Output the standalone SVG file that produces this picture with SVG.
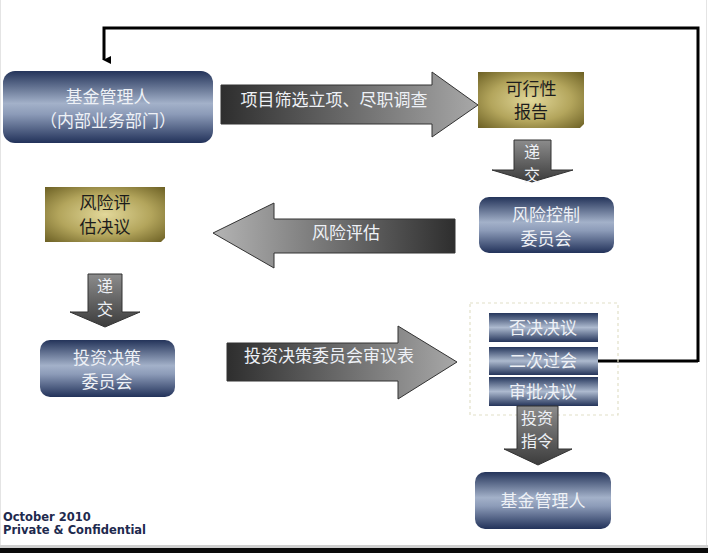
<svg xmlns="http://www.w3.org/2000/svg" width="708" height="553" viewBox="0 0 708 553">
<defs>
<linearGradient id="blue" x1="0" y1="0" x2="0" y2="1">
<stop offset="0" stop-color="#24345a"/>
<stop offset="0.45" stop-color="#a3b1c9"/>
<stop offset="0.6" stop-color="#8c9bb8"/>
<stop offset="1" stop-color="#22325a"/>
</linearGradient>
<linearGradient id="bar" x1="0" y1="0" x2="0" y2="1">
<stop offset="0" stop-color="#25365c"/>
<stop offset="0.5" stop-color="#adbacf"/>
<stop offset="1" stop-color="#24345a"/>
</linearGradient>
<radialGradient id="olive" cx="0.5" cy="0.5" r="0.7">
<stop offset="0" stop-color="#e2d89a"/>
<stop offset="0.55" stop-color="#b3a55c"/>
<stop offset="1" stop-color="#6d6125"/>
</radialGradient>
<linearGradient id="garR" x1="0" y1="0" x2="1" y2="0">
<stop offset="0" stop-color="#2e2e2e"/>
<stop offset="1" stop-color="#a8a8a8"/>
</linearGradient>
<linearGradient id="garL" x1="0" y1="0" x2="1" y2="0">
<stop offset="0" stop-color="#b4b4b4"/>
<stop offset="1" stop-color="#2e2e2e"/>
</linearGradient>
<linearGradient id="gard" x1="0" y1="0" x2="0" y2="1">
<stop offset="0" stop-color="#8c8c8c"/>
<stop offset="1" stop-color="#3c3c3c"/>
</linearGradient>
<marker id="ah" markerWidth="8" markerHeight="8" refX="4" refY="7" orient="auto" markerUnits="userSpaceOnUse" viewBox="0 0 8 8">
<path d="M0,0 L8,0 L4,8 Z" fill="#000"/>
</marker>
</defs>
<style>
.cn{font-family:"Noto Sans CJK SC","Liberation Sans",sans-serif;font-size:17px;text-anchor:middle}
.s{font-size:16px}
.w{fill:#eef1f6}
.d{fill:#1c1c1c}
.arr{stroke:#333;stroke-width:1}
.foot{font-family:"DejaVu Sans","Liberation Sans",sans-serif;font-weight:bold;font-size:11.5px;fill:#1e2a4e}
</style>
<rect width="708" height="553" fill="#ffffff"/>
<line x1="0.5" y1="0" x2="0.5" y2="546" stroke="#e4e4e4"/>
<line x1="706.5" y1="0" x2="706.5" y2="546" stroke="#e4e4e4"/>
<rect x="0" y="545" width="708" height="3" fill="#cfcfcf"/>
<rect x="0" y="548" width="708" height="5" fill="#0a0a0a"/>

<g id="connectors">
<path d="M698,361 H597" fill="none" stroke="#000" stroke-width="3"/>
<path d="M698,362 V28 H104 V60" fill="none" stroke="#000" stroke-width="3" marker-end="url(#ah)"/>
</g>

<g id="arrow-screen">
<path class="arr" d="M221,85 H432 V72 L478,105 L432,137 V124 H221 Z" fill="url(#garR)"/>
<text class="cn w" x="334" y="106" font-size="17.5">项目筛选立项、尽职调查</text>
</g>

<g id="node-fm1">
<rect x="3" y="71" width="210" height="72" rx="12" fill="url(#blue)"/>
<text class="cn w" x="108" y="103">基金管理人</text>
<text class="cn w" x="108" y="127">（内部业务部门）</text>
</g>

<g id="node-feasibility">
<path d="M478,72 H584 V124 L580,128 H478 Z" fill="url(#olive)"/>
<text class="cn d" x="531" y="95">可行性</text>
<text class="cn d" x="531" y="118">报告</text>
</g>

<g id="arrow-submit1">
<path class="arr" d="M514,140 H551 V170 H573 L532,182 L492,170 H514 Z" fill="url(#gard)"/>
<text class="cn w s" x="532" y="158">递</text>
<text class="cn w s" x="532" y="181">交</text>
</g>

<g id="node-riskctrl">
<rect x="479" y="197" width="135" height="56" rx="10" fill="url(#blue)"/>
<text class="cn w" x="546" y="221">风险控制</text>
<text class="cn w" x="546" y="245">委员会</text>
</g>

<g id="arrow-risk">
<path class="arr" d="M455,219 H274 V203 L213,233 L274,268 V253 H455 Z" fill="url(#garL)"/>
<text class="cn w" x="346" y="239">风险评估</text>
</g>

<g id="node-riskdecision">
<path d="M45,187 H165 V238 L161,242 H45 Z" fill="url(#olive)"/>
<text class="cn d" x="105" y="209">风险评</text>
<text class="cn d" x="105" y="233">估决议</text>
</g>

<g id="arrow-submit2">
<path class="arr" d="M88,274 H122 V312 H140 L105,327 L70,312 H88 Z" fill="url(#gard)"/>
<text class="cn w s" x="105" y="292">递</text>
<text class="cn w s" x="105" y="315">交</text>
</g>

<g id="node-investcomm">
<rect x="40" y="340" width="135" height="57" rx="10" fill="url(#blue)"/>
<text class="cn w" x="107" y="364">投资决策</text>
<text class="cn w" x="107" y="388">委员会</text>
</g>

<g id="arrow-review">
<path class="arr" d="M227,343 H398 V326 L457,362 L398,399 V381 H227 Z" fill="url(#garR)"/>
<text class="cn w" x="329" y="362" font-size="18">投资决策委员会审议表</text>
</g>

<g id="node-decisions">
<rect x="470" y="303" width="148" height="112" fill="none" stroke="#e2e0c8" stroke-width="1.2" stroke-dasharray="3,3"/>
<rect x="489" y="313" width="109" height="29" fill="url(#bar)"/>
<text class="cn w" x="543" y="334">否决决议</text>
<rect x="489" y="347" width="109" height="28" fill="url(#bar)"/>
<text class="cn w" x="543" y="367">二次过会</text>
<rect x="489" y="377" width="109" height="29" fill="url(#bar)"/>
<text class="cn w" x="543" y="398">审批决议</text>
</g>

<g id="arrow-instruction">
<path class="arr" d="M517,406 H558 V449 H572 L538,465 L504,449 H517 Z" fill="url(#gard)"/>
<text class="cn w s" x="537" y="424">投资</text>
<text class="cn w s" x="537" y="447">指令</text>
</g>

<g id="node-fm2">
<rect x="475" y="472" width="136" height="57" rx="10" fill="url(#blue)"/>
<text class="cn w" x="543" y="507">基金管理人</text>
</g>

<g id="footer">
<text class="foot" x="3" y="521">October 2010</text>
<text class="foot" x="3" y="534">Private &amp; Confidential</text>
</g>
</svg>
